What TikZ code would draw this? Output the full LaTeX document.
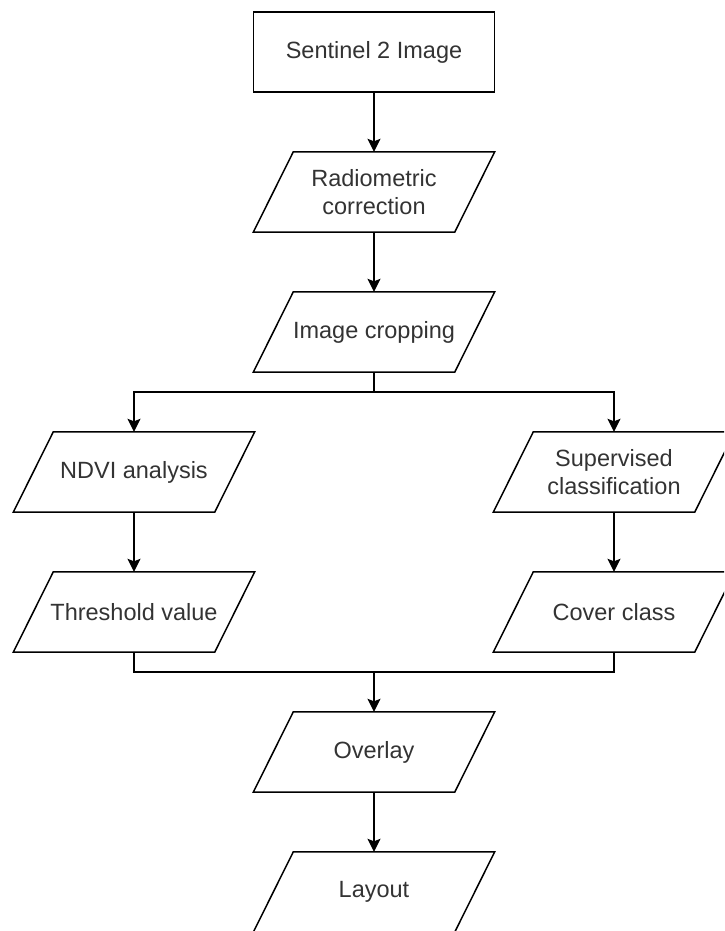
\documentclass[tikz,border=0pt]{standalone}
\usepackage{fontspec}
\setmainfont{Liberation Sans}
\usetikzlibrary{arrows.meta}
\definecolor{labelgray}{HTML}{333333}
\tikzset{
	box/.style={draw, line width=1.5pt, minimum width=241pt, minimum height=80pt, align=center, text=labelgray, font=\fontsize{23.5}{28}\selectfont},
	data/.style={minimum width=201pt, minimum height=80pt, align=center, text=labelgray, font=\fontsize{23.5}{28}\selectfont,
		append after command={\pgfextra{\draw[line width=1.5pt] ([xshift=20pt]\tikzlastnode.north west) -- ([xshift=20pt]\tikzlastnode.north east) -- ([xshift=-20pt]\tikzlastnode.south east) -- ([xshift=-20pt]\tikzlastnode.south west) -- cycle;}}},
	flow/.style={line width=1.5pt, -{Stealth[length=13pt, width=13pt, inset=2.5pt]}},
	wire/.style={line width=1.5pt}
}
\begin{document}
\begin{tikzpicture}[x=1pt, y=-1pt]
				\clip (0,0) rectangle (724,931);
				
				\node[box] (sentinel) at (374,52) {Sentinel 2 Image};
				\node[data] (radio) at (374,192) {Radiometric\\correction};
				\node[data] (crop) at (374,332) {Image cropping};
				
				\node[data] (ndvi) at (134,472) {NDVI analysis};
				\node[data] (sup) at (614,472) {Supervised\\classification};
				\node[data] (thr) at (134,612) {Threshold value};
				\node[data] (cover) at (614,612) {Cover class};
				
				\node[data] (overlay) at (374,752) {Overlay};
				\node[data] (layout) at (374,892) {Layout};
				
				\coordinate (split) at (374,392);
				\coordinate (join) at (374,672);
				
				\draw[flow] (sentinel) -- (radio);
				\draw[flow] (radio) -- (crop);
				
				\draw[wire] (crop.south) -- (split);
				\draw[flow] (split) -| (ndvi.north);
				\draw[flow] (split) -| (sup.north);
				
				\draw[flow] (ndvi) -- (thr);
				\draw[flow] (sup) -- (cover);
				
				\draw[wire] (thr.south) |- (join) -| (cover.south);
				\draw[flow] (join) -- (overlay);
				\draw[flow] (overlay) -- (layout);
\end{tikzpicture}
\end{document}
